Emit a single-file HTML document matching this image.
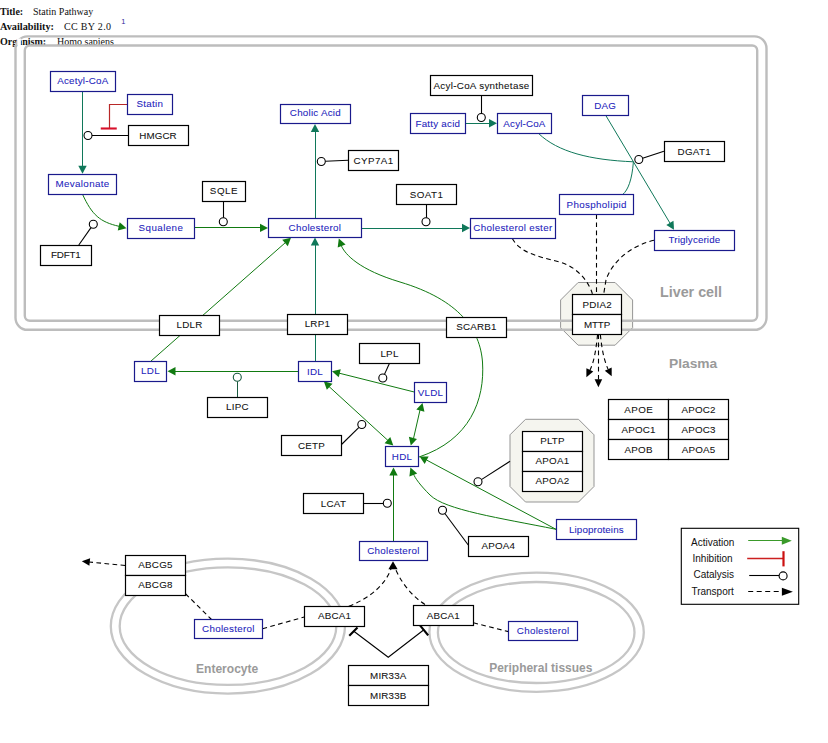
<!DOCTYPE html>
<html><head><meta charset="utf-8"><style>html,body{margin:0;padding:0;background:#fff;overflow:hidden}svg{display:block}</style></head>
<body><svg width="828" height="743" viewBox="0 0 828 743">
<rect width="828" height="743" fill="#fff"/>
<g font-family="Liberation Serif" font-size="10" fill="#111">
<text x="0" y="14.9" font-weight="bold">Title:</text><text x="33" y="14.9">Statin Pathway</text>
<text x="0" y="29.8" font-weight="bold" textLength="54" lengthAdjust="spacingAndGlyphs">Availability:</text><text x="64" y="29.8" textLength="47" lengthAdjust="spacing">CC BY 2.0</text>
<text x="0" y="44.6" font-weight="bold">Organism:</text><text x="57" y="44.6">Homo sapiens</text>
</g>
<text x="121.3" y="23.6" font-family="Liberation Sans" font-size="7.5" fill="#2a2a9a">1</text>
<rect x="15.5" y="36.4" width="751" height="293.4" rx="12" ry="12" fill="none" stroke="#bdbdbd" stroke-width="2.4"/>
<rect x="17.3" y="38.5" width="3.6" height="7" fill="#fff"/>
<rect x="24.8" y="45.5" width="732.4" height="275.3" rx="5" ry="5" fill="#fff" stroke="#bdbdbd" stroke-width="2.4"/>
<ellipse cx="227.9" cy="626.15" rx="117.1" ry="67.45" fill="none" stroke="#c6c6c6" stroke-width="2.3"/>
<ellipse cx="228" cy="626.15" rx="108.3" ry="58.75" fill="none" stroke="#c6c6c6" stroke-width="2.3"/>
<ellipse cx="536.6" cy="632.2" rx="107.2" ry="59.6" fill="none" stroke="#c6c6c6" stroke-width="2.3"/>
<ellipse cx="536.2" cy="632.5" rx="98.3" ry="50.5" fill="none" stroke="#c6c6c6" stroke-width="2.3"/>
<g font-family="Liberation Sans" font-weight="bold" fill="#9a9a9a">
<text x="660" y="297.3" font-size="14" textLength="62" lengthAdjust="spacingAndGlyphs">Liver cell</text>
<text x="669" y="368" font-size="13.6" textLength="48.3" lengthAdjust="spacingAndGlyphs">Plasma</text>
<text x="196" y="673" font-size="12" textLength="62.3" lengthAdjust="spacingAndGlyphs">Enterocyte</text>
<text x="489.2" y="671.5" font-size="12" textLength="103.2" lengthAdjust="spacingAndGlyphs">Peripheral tissues</text>
</g>
<polygon points="578.10,282.50 615.10,282.50 632.60,300.00 632.60,327.70 615.10,345.20 578.10,345.20 560.60,327.70 560.60,300.00" fill="#f5f5ef" stroke="#959595" stroke-width="1"/>
<polygon points="525.50,419.30 578.50,419.30 594.00,434.80 594.00,486.50 578.50,502.00 525.50,502.00 510.00,486.50 510.00,434.80" fill="#f5f5ef" stroke="#959595" stroke-width="1"/>
<line x1="560" y1="320.8" x2="633" y2="320.8" stroke="#bdbdbd" stroke-width="2.4"/>
<line x1="560" y1="329.8" x2="633" y2="329.8" stroke="#bdbdbd" stroke-width="2.4"/>
<g font-family="Liberation Sans">
<line x1="82.5" y1="91.25" x2="82.5" y2="167" stroke="#10785a" stroke-width="1.0"/>
<polygon points="82.50,173.80 78.30,165.80 86.70,165.80" fill="#10785a"/>
<line x1="315.5" y1="218.25" x2="315.5" y2="130" stroke="#10785a" stroke-width="1.0"/>
<polygon points="315.00,124.00 319.20,132.00 310.80,132.00" fill="#10785a"/>
<line x1="361.5" y1="228.5" x2="463" y2="228.5" stroke="#10785a" stroke-width="1.0"/>
<polygon points="470.00,228.00 462.00,232.20 462.00,223.80" fill="#10785a"/>
<line x1="465.25" y1="123.5" x2="490" y2="123.5" stroke="#10785a" stroke-width="1.0"/>
<polygon points="497.00,123.25 489.00,127.45 489.00,119.05" fill="#10785a"/>
<path d="M538.7,133.6 C558,152 590,160 633.4,161.8" fill="none" stroke="#10785a" stroke-width="1.0"/>
<path d="M633.4,161.8 C632,180 628,190 622.8,194.4" fill="none" stroke="#10785a" stroke-width="1.0"/>
<line x1="606" y1="115.8" x2="670.5" y2="224" stroke="#10785a" stroke-width="1.0"/>
<polygon points="674.00,229.80 666.29,225.08 673.51,220.78" fill="#10785a"/>
<line x1="315.5" y1="361.25" x2="315.5" y2="243" stroke="#10785a" stroke-width="1.0"/>
<polygon points="315.00,237.60 319.20,245.60 310.80,245.60" fill="#10785a"/>
<line x1="237.5" y1="397.25" x2="237.5" y2="381.3" stroke="#1a5a40" stroke-width="1.0"/>
<path d="M82.5,194.25 C92,215 100,222 119,226.3" fill="none" stroke="#117a11" stroke-width="1.0"/>
<polygon points="126.50,228.20 117.75,230.46 119.67,222.28" fill="#117a11"/>
<line x1="194.5" y1="227.5" x2="261" y2="227.5" stroke="#117a11" stroke-width="1.0"/>
<polygon points="268.00,227.90 260.00,232.10 260.00,223.70" fill="#117a11"/>
<line x1="150.75" y1="361.25" x2="285.5" y2="242.5" stroke="#117a11" stroke-width="1.0"/>
<polygon points="291.00,237.70 287.77,246.14 282.22,239.84" fill="#117a11"/>
<path d="M419,457 C470,440 485,400 482.5,362 C480,330 460,300 400,282 C360,270 345,255 341,245" fill="none" stroke="#117a11" stroke-width="1.0"/>
<polygon points="338.80,238.60 345.57,244.58 337.72,247.57" fill="#117a11"/>
<line x1="298.25" y1="371.5" x2="174" y2="371.5" stroke="#117a11" stroke-width="1.0"/>
<polygon points="167.50,371.25 175.50,367.05 175.50,375.45" fill="#117a11"/>
<line x1="414.25" y1="392" x2="338.5" y2="373" stroke="#117a11" stroke-width="1.0"/>
<polygon points="332.00,371.30 340.78,369.18 338.73,377.33" fill="#117a11"/>
<line x1="329" y1="386.5" x2="388" y2="440.5" stroke="#117a11" stroke-width="1.0"/>
<polygon points="323.80,381.30 332.53,383.64 326.83,389.81" fill="#117a11"/>
<polygon points="393.30,445.50 384.57,443.16 390.27,436.99" fill="#117a11"/>
<line x1="420" y1="410" x2="413.5" y2="438.5" stroke="#117a11" stroke-width="1.0"/>
<polygon points="422.50,403.00 424.43,411.83 416.33,409.60" fill="#117a11"/>
<polygon points="410.80,445.50 408.87,436.67 416.97,438.90" fill="#117a11"/>
<line x1="393.5" y1="541" x2="393.5" y2="474" stroke="#117a11" stroke-width="1.0"/>
<polygon points="393.50,467.50 397.70,475.50 389.30,475.50" fill="#117a11"/>
<line x1="556" y1="529.3" x2="426.5" y2="460" stroke="#117a11" stroke-width="1.0"/>
<polygon points="419.60,456.50 428.64,456.56 424.68,463.97" fill="#117a11"/>
<path d="M556,529.3 C500,518 445,510 430,495 C420,485 415,478 413.5,474" fill="none" stroke="#117a11" stroke-width="1.0"/>
<polygon points="410.40,467.50 417.22,473.42 409.40,476.48" fill="#117a11"/>
</g>
<circle cx="237.3" cy="377.3" r="4" fill="#fff" stroke="#1a5a40" stroke-width="1.1"/>
<line x1="128" y1="135.5" x2="92.0" y2="135.5" stroke="#000" stroke-width="1.1"/>
<line x1="223.5" y1="201.25" x2="223.5" y2="217.8" stroke="#000" stroke-width="1.1"/>
<line x1="78.8" y1="245" x2="91.01" y2="227.58" stroke="#000" stroke-width="1.1"/>
<line x1="348.25" y1="160.3" x2="325.3" y2="161.32" stroke="#000" stroke-width="1.1"/>
<line x1="481.5" y1="95.5" x2="481.5" y2="113.5" stroke="#000" stroke-width="1.1"/>
<line x1="426.5" y1="204.25" x2="426.5" y2="217.8" stroke="#000" stroke-width="1.1"/>
<line x1="663.9" y1="151.2" x2="642.6" y2="158.24" stroke="#000" stroke-width="1.1"/>
<line x1="389.5" y1="363.25" x2="384.45" y2="374.36" stroke="#000" stroke-width="1.1"/>
<line x1="341.5" y1="444.5" x2="358.95" y2="427.31" stroke="#000" stroke-width="1.1"/>
<line x1="363.5" y1="503.5" x2="383.3" y2="503.5" stroke="#000" stroke-width="1.1"/>
<line x1="510" y1="461.3" x2="481.37" y2="479.64" stroke="#000" stroke-width="1.1"/>
<line x1="468.25" y1="545" x2="444.88" y2="513.51" stroke="#000" stroke-width="1.1"/>
<circle cx="88" cy="135.5" r="4.0" fill="#fff" stroke="#000" stroke-width="1.1"/>
<circle cx="223.3" cy="221.8" r="4.0" fill="#fff" stroke="#000" stroke-width="1.1"/>
<circle cx="93.3" cy="224.3" r="4.0" fill="#fff" stroke="#000" stroke-width="1.1"/>
<circle cx="321.3" cy="161.5" r="4.0" fill="#fff" stroke="#000" stroke-width="1.1"/>
<circle cx="481.3" cy="117.5" r="4.0" fill="#fff" stroke="#000" stroke-width="1.1"/>
<circle cx="426" cy="221.8" r="4.0" fill="#fff" stroke="#000" stroke-width="1.1"/>
<circle cx="638.8" cy="159.5" r="4.0" fill="#fff" stroke="#000" stroke-width="1.1"/>
<circle cx="382.8" cy="378" r="4.0" fill="#fff" stroke="#000" stroke-width="1.1"/>
<circle cx="361.8" cy="424.5" r="4.0" fill="#fff" stroke="#000" stroke-width="1.1"/>
<circle cx="387.3" cy="503.25" r="4.0" fill="#fff" stroke="#000" stroke-width="1.1"/>
<circle cx="478" cy="481.8" r="4.0" fill="#fff" stroke="#000" stroke-width="1.1"/>
<circle cx="442.5" cy="510.3" r="4.0" fill="#fff" stroke="#000" stroke-width="1.1"/>
<path d="M127,104.5 H109.5 V128.5" fill="none" stroke="#b82828" stroke-width="1.2"/>
<line x1="100.75" y1="128.5" x2="116.75" y2="128.5" stroke="#d8102a" stroke-width="2.1"/>
<path d="M353.5,631 L388.25,657.2 L424.25,629.5" fill="none" stroke="#000" stroke-width="1.1"/>
<line x1="349.25" y1="635.75" x2="357.5" y2="627.5" stroke="#000" stroke-width="2.2"/>
<line x1="418.8" y1="623.9" x2="428.2" y2="635.4" stroke="#000" stroke-width="2.2"/>
<line x1="596.5" y1="214.3" x2="596.5" y2="294" stroke="#000" stroke-width="1.1" stroke-dasharray="4.7,3.4"/>
<path d="M512.3,238.6 C520,252 535,256 560,262 C580,268 590,285 592.4,294" fill="none" stroke="#000" stroke-width="1.1" stroke-dasharray="4.7,3.4"/>
<path d="M654,240.3 C630,246 612,262 606,280 L603.7,294" fill="none" stroke="#000" stroke-width="1.1" stroke-dasharray="4.7,3.4"/>
<line x1="598.5" y1="334.4" x2="598.5" y2="380" stroke="#000" stroke-width="1.1" stroke-dasharray="4.7,3.4"/>
<polygon points="598.40,387.30 594.60,379.30 602.20,379.30" fill="#000"/>
<path d="M597.6,334.4 C596,350 594,362 590,370" fill="none" stroke="#000" stroke-width="1.1" stroke-dasharray="4.7,3.4"/>
<polygon points="586.40,377.20 586.41,368.34 593.27,371.61" fill="#000"/>
<path d="M600.3,334.4 C602,350 604,360 608,369" fill="none" stroke="#000" stroke-width="1.1" stroke-dasharray="4.7,3.4"/>
<polygon points="611.70,376.30 604.81,370.74 611.65,367.44" fill="#000"/>
<line x1="125.25" y1="565.5" x2="89" y2="562" stroke="#000" stroke-width="1.1" stroke-dasharray="4.7,3.4"/>
<polygon points="81.80,561.30 90.13,558.29 89.39,565.86" fill="#000"/>
<line x1="185.5" y1="593.75" x2="211.3" y2="619.25" stroke="#000" stroke-width="1.1" stroke-dasharray="4.7,3.4"/>
<line x1="262.5" y1="628.75" x2="304.25" y2="617" stroke="#000" stroke-width="1.1" stroke-dasharray="4.7,3.4"/>
<path d="M348.75,606.25 C370,598 385,585 391,569" fill="none" stroke="#000" stroke-width="1.1" stroke-dasharray="4.7,3.4"/>
<polygon points="393.00,561.30 397.60,569.30 388.40,569.30" fill="#000"/>
<path d="M425,604.5 C410,595 400,580 395,568" fill="none" stroke="#000" stroke-width="1.1" stroke-dasharray="4.7,3.4"/>
<line x1="473.4" y1="622.8" x2="508.5" y2="631.6" stroke="#000" stroke-width="1.1" stroke-dasharray="4.7,3.4"/>
<g font-family="Liberation Sans">
<rect x="50.5" y="71.5" width="65.0" height="20.0" fill="#fff" stroke="#1a1a8c" stroke-width="1.2"/><text x="82.75" y="83.95" fill="#2424bc" stroke="#2424bc" stroke-width="0.07" font-size="9.8" text-anchor="middle" textLength="51.05" lengthAdjust="spacing">Acetyl-CoA</text>
<rect x="127.5" y="94.5" width="45.0" height="20.0" fill="#fff" stroke="#1a1a8c" stroke-width="1.2"/><text x="149.75" y="106.95" fill="#2424bc" stroke="#2424bc" stroke-width="0.07" font-size="9.8" text-anchor="middle" textLength="26.55" lengthAdjust="spacing">Statin</text>
<rect x="48.5" y="174.5" width="68.0" height="20.0" fill="#fff" stroke="#1a1a8c" stroke-width="1.2"/><text x="82.38" y="186.95" fill="#2424bc" stroke="#2424bc" stroke-width="0.07" font-size="9.8" text-anchor="middle" textLength="53.80" lengthAdjust="spacing">Mevalonate</text>
<rect x="127.5" y="218.5" width="67.0" height="20.0" fill="#fff" stroke="#1a1a8c" stroke-width="1.2"/><text x="160.75" y="230.95" fill="#2424bc" stroke="#2424bc" stroke-width="0.07" font-size="9.8" text-anchor="middle" textLength="44.30" lengthAdjust="spacing">Squalene</text>
<rect x="268.5" y="218.5" width="93.0" height="19.0" fill="#fff" stroke="#1a1a8c" stroke-width="1.2"/><text x="314.75" y="231.15" fill="#2424bc" stroke="#2424bc" stroke-width="0.07" font-size="9.8" text-anchor="middle" textLength="52.30" lengthAdjust="spacing">Cholesterol</text>
<rect x="280.5" y="104.5" width="70.0" height="19.0" fill="#fff" stroke="#1a1a8c" stroke-width="1.2"/><text x="315.25" y="116.45" fill="#2424bc" stroke="#2424bc" stroke-width="0.07" font-size="9.8" text-anchor="middle" textLength="50.80" lengthAdjust="spacing">Cholic Acid</text>
<rect x="410.5" y="113.5" width="55.0" height="20.0" fill="#fff" stroke="#1a1a8c" stroke-width="1.2"/><text x="437.75" y="126.55" fill="#2424bc" stroke="#2424bc" stroke-width="0.07" font-size="9.8" text-anchor="middle" textLength="44.55" lengthAdjust="spacing">Fatty acid</text>
<rect x="497.5" y="113.5" width="54.0" height="20.0" fill="#fff" stroke="#1a1a8c" stroke-width="1.2"/><text x="524.38" y="126.75" fill="#2424bc" stroke="#2424bc" stroke-width="0.07" font-size="9.8" text-anchor="middle" textLength="42.05" lengthAdjust="spacing">Acyl-CoA</text>
<rect x="582.5" y="95.5" width="46.0" height="20.0" fill="#fff" stroke="#1a1a8c" stroke-width="1.2"/><text x="605.12" y="108.58" fill="#2424bc" stroke="#2424bc" stroke-width="0.07" font-size="9.8" text-anchor="middle" textLength="21.55" lengthAdjust="spacing">DAG</text>
<rect x="559.5" y="194.5" width="74.0" height="20.0" fill="#fff" stroke="#1a1a8c" stroke-width="1.2"/><text x="596.50" y="207.55" fill="#2424bc" stroke="#2424bc" stroke-width="0.07" font-size="9.8" text-anchor="middle" textLength="59.80" lengthAdjust="spacing">Phospholipid</text>
<rect x="470.5" y="218.5" width="85.0" height="20.0" fill="#fff" stroke="#1a1a8c" stroke-width="1.2"/><text x="512.75" y="231.45" fill="#2424bc" stroke="#2424bc" stroke-width="0.07" font-size="9.8" text-anchor="middle" textLength="78.80" lengthAdjust="spacing">Cholesterol ester</text>
<rect x="654.5" y="230.5" width="80.0" height="20.0" fill="#fff" stroke="#1a1a8c" stroke-width="1.2"/><text x="694.38" y="243.45" fill="#2424bc" stroke="#2424bc" stroke-width="0.07" font-size="9.8" text-anchor="middle" textLength="51.55" lengthAdjust="spacing">Triglyceride</text>
<rect x="134.5" y="361.5" width="32.0" height="20.0" fill="#fff" stroke="#1a1a8c" stroke-width="1.2"/><text x="150.38" y="374.45" fill="#2424bc" stroke="#2424bc" stroke-width="0.07" font-size="9.8" text-anchor="middle" textLength="18.54" lengthAdjust="spacing">LDL</text>
<rect x="298.5" y="361.5" width="33.0" height="20.0" fill="#fff" stroke="#1a1a8c" stroke-width="1.2"/><text x="314.88" y="374.95" fill="#2424bc" stroke="#2424bc" stroke-width="0.07" font-size="9.8" text-anchor="middle" textLength="15.76" lengthAdjust="spacing">IDL</text>
<rect x="414.5" y="382.5" width="32.0" height="20.0" fill="#fff" stroke="#1a1a8c" stroke-width="1.2"/><text x="430.38" y="395.95" fill="#2424bc" stroke="#2424bc" stroke-width="0.07" font-size="9.8" text-anchor="middle" textLength="25.21" lengthAdjust="spacing">VLDL</text>
<rect x="385.5" y="446.5" width="33.0" height="20.0" fill="#fff" stroke="#1a1a8c" stroke-width="1.2"/><text x="401.88" y="459.95" fill="#2424bc" stroke="#2424bc" stroke-width="0.07" font-size="9.8" text-anchor="middle" textLength="20.20" lengthAdjust="spacing">HDL</text>
<rect x="556.5" y="519.5" width="80.0" height="20.0" fill="#fff" stroke="#1a1a8c" stroke-width="1.2"/><text x="596.30" y="532.70" fill="#2424bc" stroke="#2424bc" stroke-width="0.07" font-size="9.8" text-anchor="middle" textLength="54.68" lengthAdjust="spacing">Lipoproteins</text>
<rect x="359.5" y="541.5" width="68.0" height="19.0" fill="#fff" stroke="#1a1a8c" stroke-width="1.2"/><text x="393.38" y="553.95" fill="#2424bc" stroke="#2424bc" stroke-width="0.07" font-size="9.8" text-anchor="middle" textLength="52.30" lengthAdjust="spacing">Cholesterol</text>
<rect x="194.5" y="619.5" width="68.0" height="19.0" fill="#fff" stroke="#1a1a8c" stroke-width="1.2"/><text x="228.25" y="632.08" fill="#2424bc" stroke="#2424bc" stroke-width="0.07" font-size="9.8" text-anchor="middle" textLength="52.30" lengthAdjust="spacing">Cholesterol</text>
<rect x="508.5" y="621.5" width="69.0" height="19.0" fill="#fff" stroke="#1a1a8c" stroke-width="1.2"/><text x="543.00" y="634.15" fill="#2424bc" stroke="#2424bc" stroke-width="0.07" font-size="9.8" text-anchor="middle" textLength="52.30" lengthAdjust="spacing">Cholesterol</text>
<rect x="128.5" y="125.5" width="60.0" height="20.0" fill="#fff" stroke="#000" stroke-width="1.2"/><text x="158.00" y="138.60" fill="#111111" stroke="#111111" stroke-width="0.07" font-size="9.8" text-anchor="middle" textLength="37.30" lengthAdjust="spacing">HMGCR</text>
<rect x="202.5" y="181.5" width="43.0" height="20.0" fill="#fff" stroke="#000" stroke-width="1.2"/><text x="223.75" y="193.95" fill="#111111" stroke="#111111" stroke-width="0.07" font-size="9.8" text-anchor="middle" textLength="27.80" lengthAdjust="spacing">SQLE</text>
<rect x="40.5" y="245.5" width="51.0" height="20.0" fill="#fff" stroke="#000" stroke-width="1.2"/><text x="65.88" y="257.70" fill="#111111" stroke="#111111" stroke-width="0.07" font-size="9.8" text-anchor="middle" textLength="29.80" lengthAdjust="spacing">FDFT1</text>
<rect x="348.5" y="150.5" width="50.0" height="20.0" fill="#fff" stroke="#000" stroke-width="1.2"/><text x="373.38" y="163.88" fill="#111111" stroke="#111111" stroke-width="0.07" font-size="9.8" text-anchor="middle" textLength="39.80" lengthAdjust="spacing">CYP7A1</text>
<rect x="430.5" y="75.5" width="102.0" height="20.0" fill="#fff" stroke="#000" stroke-width="1.2"/><text x="481.38" y="88.88" fill="#111111" stroke="#111111" stroke-width="0.07" font-size="9.8" text-anchor="middle" textLength="95.80" lengthAdjust="spacing">Acyl-CoA synthetase</text>
<rect x="396.5" y="184.5" width="60.0" height="20.0" fill="#fff" stroke="#000" stroke-width="1.2"/><text x="426.38" y="197.65" fill="#111111" stroke="#111111" stroke-width="0.07" font-size="9.8" text-anchor="middle" textLength="33.30" lengthAdjust="spacing">SOAT1</text>
<rect x="664.5" y="141.5" width="60.0" height="20.0" fill="#fff" stroke="#000" stroke-width="1.2"/><text x="694.12" y="154.50" fill="#111111" stroke="#111111" stroke-width="0.07" font-size="9.8" text-anchor="middle" textLength="33.30" lengthAdjust="spacing">DGAT1</text>
<rect x="572.5" y="294.5" width="49.0" height="20.0" fill="#fff" stroke="#000" stroke-width="1.2"/><text x="597.05" y="307.70" fill="#111111" stroke="#111111" stroke-width="0.07" font-size="9.8" text-anchor="middle" textLength="29.10" lengthAdjust="spacing">PDIA2</text>
<rect x="572.5" y="314.5" width="49.0" height="20.0" fill="#fff" stroke="#000" stroke-width="1.2"/><text x="597.05" y="327.60" fill="#111111" stroke="#111111" stroke-width="0.07" font-size="9.8" text-anchor="middle" textLength="26.30" lengthAdjust="spacing">MTTP</text>
<rect x="159.5" y="315.5" width="60.0" height="20.0" fill="#fff" stroke="#000" stroke-width="1.2"/><text x="189.38" y="328.45" fill="#111111" stroke="#111111" stroke-width="0.07" font-size="9.8" text-anchor="middle" textLength="25.77" lengthAdjust="spacing">LDLR</text>
<rect x="287.5" y="314.5" width="60.0" height="20.0" fill="#fff" stroke="#000" stroke-width="1.2"/><text x="317.25" y="327.45" fill="#111111" stroke="#111111" stroke-width="0.07" font-size="9.8" text-anchor="middle" textLength="25.21" lengthAdjust="spacing">LRP1</text>
<rect x="446.5" y="317.5" width="60.0" height="20.0" fill="#fff" stroke="#000" stroke-width="1.2"/><text x="476.25" y="330.45" fill="#111111" stroke="#111111" stroke-width="0.07" font-size="9.8" text-anchor="middle" textLength="40.21" lengthAdjust="spacing">SCARB1</text>
<rect x="359.5" y="343.5" width="60.0" height="20.0" fill="#fff" stroke="#000" stroke-width="1.2"/><text x="389.38" y="356.95" fill="#111111" stroke="#111111" stroke-width="0.07" font-size="9.8" text-anchor="middle" textLength="17.99" lengthAdjust="spacing">LPL</text>
<rect x="207.5" y="397.5" width="60.0" height="20.0" fill="#fff" stroke="#000" stroke-width="1.2"/><text x="237.25" y="410.45" fill="#111111" stroke="#111111" stroke-width="0.07" font-size="9.8" text-anchor="middle" textLength="22.43" lengthAdjust="spacing">LIPC</text>
<rect x="281.5" y="435.5" width="60.0" height="20.0" fill="#fff" stroke="#000" stroke-width="1.2"/><text x="311.38" y="448.95" fill="#111111" stroke="#111111" stroke-width="0.07" font-size="9.8" text-anchor="middle" textLength="26.87" lengthAdjust="spacing">CETP</text>
<rect x="303.5" y="493.5" width="60.0" height="20.0" fill="#fff" stroke="#000" stroke-width="1.2"/><text x="333.38" y="506.95" fill="#111111" stroke="#111111" stroke-width="0.07" font-size="9.8" text-anchor="middle" textLength="25.02" lengthAdjust="spacing">LCAT</text>
<rect x="608.5" y="399.5" width="60.0" height="20.0" fill="#fff" stroke="#000" stroke-width="1.2"/><text x="638.50" y="412.70" fill="#111111" stroke="#111111" stroke-width="0.07" font-size="9.8" text-anchor="middle" textLength="28.70" lengthAdjust="spacing">APOE</text>
<rect x="668.5" y="399.5" width="60.0" height="20.0" fill="#fff" stroke="#000" stroke-width="1.2"/><text x="698.50" y="412.70" fill="#111111" stroke="#111111" stroke-width="0.07" font-size="9.8" text-anchor="middle" textLength="34.10" lengthAdjust="spacing">APOC2</text>
<rect x="608.5" y="419.5" width="60.0" height="20.0" fill="#fff" stroke="#000" stroke-width="1.2"/><text x="638.50" y="432.70" fill="#111111" stroke="#111111" stroke-width="0.07" font-size="9.8" text-anchor="middle" textLength="34.10" lengthAdjust="spacing">APOC1</text>
<rect x="668.5" y="419.5" width="60.0" height="20.0" fill="#fff" stroke="#000" stroke-width="1.2"/><text x="698.50" y="432.70" fill="#111111" stroke="#111111" stroke-width="0.07" font-size="9.8" text-anchor="middle" textLength="34.10" lengthAdjust="spacing">APOC3</text>
<rect x="608.5" y="439.5" width="60.0" height="20.0" fill="#fff" stroke="#000" stroke-width="1.2"/><text x="638.50" y="452.70" fill="#111111" stroke="#111111" stroke-width="0.07" font-size="9.8" text-anchor="middle" textLength="27.99" lengthAdjust="spacing">APOB</text>
<rect x="668.5" y="439.5" width="60.0" height="20.0" fill="#fff" stroke="#000" stroke-width="1.2"/><text x="698.50" y="452.70" fill="#111111" stroke="#111111" stroke-width="0.07" font-size="9.8" text-anchor="middle" textLength="33.55" lengthAdjust="spacing">APOA5</text>
<rect x="522.5" y="431.5" width="60.0" height="20.0" fill="#fff" stroke="#000" stroke-width="1.2"/><text x="552.38" y="444.45" fill="#111111" stroke="#111111" stroke-width="0.07" font-size="9.8" text-anchor="middle" textLength="24.47" lengthAdjust="spacing">PLTP</text>
<rect x="522.5" y="451.5" width="60.0" height="20.0" fill="#fff" stroke="#000" stroke-width="1.2"/><text x="552.38" y="464.45" fill="#111111" stroke="#111111" stroke-width="0.07" font-size="9.8" text-anchor="middle" textLength="33.55" lengthAdjust="spacing">APOA1</text>
<rect x="522.5" y="471.5" width="60.0" height="20.0" fill="#fff" stroke="#000" stroke-width="1.2"/><text x="552.38" y="484.45" fill="#111111" stroke="#111111" stroke-width="0.07" font-size="9.8" text-anchor="middle" textLength="33.55" lengthAdjust="spacing">APOA2</text>
<rect x="468.5" y="536.5" width="60.0" height="20.0" fill="#fff" stroke="#000" stroke-width="1.2"/><text x="498.25" y="549.45" fill="#111111" stroke="#111111" stroke-width="0.07" font-size="9.8" text-anchor="middle" textLength="33.55" lengthAdjust="spacing">APOA4</text>
<rect x="125.5" y="555.5" width="60.0" height="20.0" fill="#fff" stroke="#000" stroke-width="1.2"/><text x="155.38" y="568.45" fill="#111111" stroke="#111111" stroke-width="0.07" font-size="9.8" text-anchor="middle" textLength="34.10" lengthAdjust="spacing">ABCG5</text>
<rect x="125.5" y="575.5" width="60.0" height="20.0" fill="#fff" stroke="#000" stroke-width="1.2"/><text x="155.38" y="588.45" fill="#111111" stroke="#111111" stroke-width="0.07" font-size="9.8" text-anchor="middle" textLength="34.10" lengthAdjust="spacing">ABCG8</text>
<rect x="304.5" y="606.5" width="60.0" height="20.0" fill="#fff" stroke="#000" stroke-width="1.2"/><text x="334.38" y="619.45" fill="#111111" stroke="#111111" stroke-width="0.07" font-size="9.8" text-anchor="middle" textLength="32.99" lengthAdjust="spacing">ABCA1</text>
<rect x="413.5" y="605.5" width="60.0" height="20.0" fill="#fff" stroke="#000" stroke-width="1.2"/><text x="443.25" y="618.70" fill="#111111" stroke="#111111" stroke-width="0.07" font-size="9.8" text-anchor="middle" textLength="32.99" lengthAdjust="spacing">ABCA1</text>
<rect x="348.5" y="665.5" width="80.0" height="20.0" fill="#fff" stroke="#000" stroke-width="1.2"/><text x="388.25" y="678.95" fill="#111111" stroke="#111111" stroke-width="0.07" font-size="9.8" text-anchor="middle" textLength="36.32" lengthAdjust="spacing">MIR33A</text>
<rect x="348.5" y="685.5" width="80.0" height="20.0" fill="#fff" stroke="#000" stroke-width="1.2"/><text x="388.25" y="698.95" fill="#111111" stroke="#111111" stroke-width="0.07" font-size="9.8" text-anchor="middle" textLength="36.32" lengthAdjust="spacing">MIR33B</text>
</g>
<g font-family="Liberation Sans" font-size="10" fill="#111">
<rect x="681.3" y="528.3" width="117.4" height="76" fill="#fff" stroke="#000" stroke-width="1.1"/>
<text x="691" y="546">Activation</text><text x="692.5" y="562.2">Inhibition</text><text x="693.5" y="578.4">Catalysis</text><text x="691.4" y="595.2">Transport</text>
<line x1="748.2" y1="540.5" x2="784" y2="540.5" stroke="#3a9a2a" stroke-width="1.2"/>
<polygon points="791.80,540.80 781.80,544.80 781.80,536.80" fill="#3a9a2a"/>
<line x1="747.2" y1="558.5" x2="783.7" y2="558.5" stroke="#cc2020" stroke-width="1.3"/>
<line x1="783.5" y1="551.2" x2="783.5" y2="566.4" stroke="#cc1010" stroke-width="2.2"/>
<line x1="749.2" y1="575.5" x2="779.1" y2="575.5" stroke="#000" stroke-width="1.1"/>
<circle cx="783.1" cy="575.9" r="4.0" fill="#fff" stroke="#000" stroke-width="1.1"/>
<line x1="748.2" y1="591.5" x2="782" y2="591.5" stroke="#000" stroke-width="1.1" stroke-dasharray="5,3.5"/>
<polygon points="792.90,591.70 781.90,595.70 781.90,587.70" fill="#000"/>
</g>
</svg></body></html>
